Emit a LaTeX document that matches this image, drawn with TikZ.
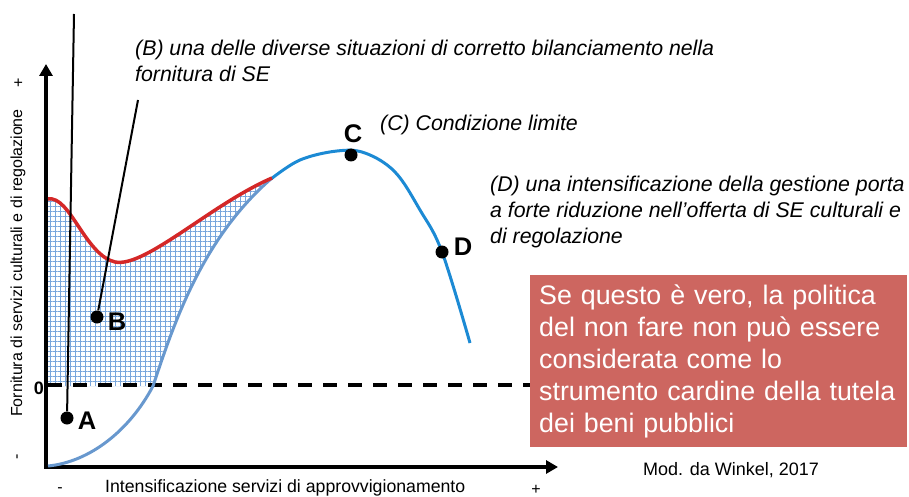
\documentclass[tikz,border=0pt]{standalone}
\usepackage{fontspec}
\setmainfont{Liberation Sans}
\usetikzlibrary{patterns.meta,arrows.meta}

\definecolor{curveblue}{RGB}{28,138,212}
\definecolor{lowblue}{RGB}{104,152,206}
\definecolor{gridblue}{RGB}{120,166,220}
\definecolor{curvered}{RGB}{212,40,40}
\definecolor{boxred}{RGB}{205,102,96}

\begin{document}
\begin{tikzpicture}[x=1pt,y=-1pt,
    dot/.style={circle,fill=black,inner sep=0pt,minimum size=13pt},
    letter/.style={font=\fontsize{25.5}{25.5}\selectfont\bfseries},
    note/.style={font=\fontsize{21.3}{26}\selectfont\itshape,anchor=base west,align=left,inner sep=0pt},
    axis/.style={line width=4pt,-{Triangle[length=12pt,width=13pt]}},
    leader/.style={line width=2pt},
    tick/.style={font=\fontsize{16}{16}\selectfont},
    policy/.style={fill=boxred,text=white,anchor=north west,minimum width=377pt,minimum height=172pt,
        text width=359pt,inner xsep=9pt,align=left,font=\fontsize{26.8}{32}\selectfont}]
    \useasboundingbox (0,0) rectangle (909,497);

    % region between the two curves
    \fill[pattern={Hatch[angle=0,distance=5pt,line width=1pt]},pattern color=gridblue]
    (48,199) .. controls (70,195) and (85,255) .. (115,262)
    .. controls (145,268) and (210,205) .. (272,178)
    .. controls (200,240) and (172,330) .. (153,386)
    -- (48,386) -- cycle;

    % axes
    \coordinate (origin) at (46,467);
    \coordinate (ytop) at (46,64);
    \coordinate (xend) at (558,467);
    \draw[axis] ([yshift=2pt]origin) -- (ytop);
    \draw[axis] ([xshift=-2pt]origin) -- (xend);
    \coordinate (zero) at (48,385);
    \coordinate (zeroend) at (530,385);
    \draw[line width=4pt,dash pattern=on 14pt off 11pt] (zero) -- (zeroend);

    % curves
    \draw[lowblue,line width=3pt]
    (48,466) .. controls (90,462) and (130,430) .. (153,386)
    .. controls (172,330) and (200,240) .. (272,178);
    \draw[curveblue,line width=3pt] plot[smooth,tension=0.6] coordinates
    {(271,179) (300,160) (337,151) (365,153) (395,172) (420,210) (442,252) (470,343)};
    \draw[curvered,line width=3.5pt]
    (48,199) .. controls (70,195) and (85,255) .. (115,262)
    .. controls (145,268) and (210,205) .. (272,178);

    % points
    \node[dot] (ptA) at (67,418) {};
    \node[dot] (ptB) at (97,317) {};
    \node[dot] (ptC) at (351,155) {};
    \node[dot] (ptD) at (442,252) {};
    \node[letter] (labA) at (87,421) {A};
    \node[letter] (labB) at (117,322) {B};
    \node[letter] (labC) at (353,134) {C};
    \node[letter] (labD) at (463,247) {D};
    \coordinate (leadA) at (74,14);
    \coordinate (leadB) at (138,100);
    \draw[leader] (ptA) -- (leadA);
    \draw[leader] (ptB) -- (leadB);

    % texts
    \node[note] (noteB) at (135,82) {(B) una delle diverse situazioni di corretto bilanciamento nella\\fornitura di SE};
    \node[note] (noteC) at (380,131) {(C) Condizione limite};
    \node[note] (noteD) at (490,243) {(D) una intensificazione della gestione porta\\a forte riduzione nell’offerta di SE culturali e\\di regolazione};
    \node[policy] (box) at (530,275) {Se questo è vero, la politica\\del non fare non può essere\\considerata come lo\\strumento cardine della tutela\\dei beni pubblici};
    \node[anchor=base west,inner sep=0pt,font=\fontsize{18}{18}\selectfont] (source) at (643,475) {Mod. da Winkel, 2017};

    % axis labels
    \node[font=\fontsize{18}{18}\selectfont\bfseries] (lzero) at (39,388) {0};
    \node[tick,rotate=90] (yplus) at (19,83) {+};
    \node[tick,rotate=90] (yminus) at (19,457) {-};
    \node[tick] (xminus) at (60,490) {-};
    \node[tick] (xplus) at (536,490) {+};
    \node[anchor=base west,inner sep=0pt,font=\fontsize{17.7}{17.7}\selectfont] (xlabel) at (105,492) {Intensificazione servizi di approvvigionamento};
    \node[rotate=90,font=\fontsize{16}{16}\selectfont] (ylabel) at (18,263) {Fornitura di servizi culturali e di regolazione};
\end{tikzpicture}
\end{document}
